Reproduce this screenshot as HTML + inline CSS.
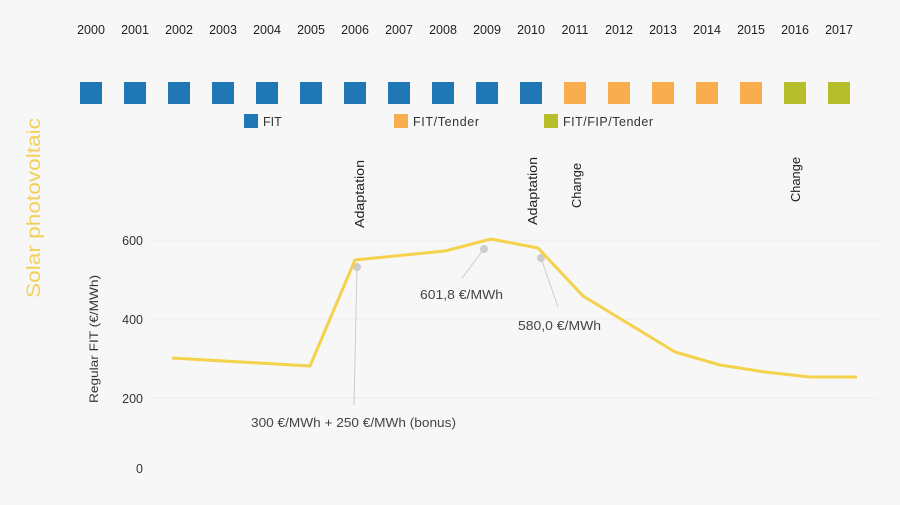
<!DOCTYPE html>
<html><head><meta charset="utf-8"><style>
body{margin:0;width:900px;height:500px;background:#f7f7f7;overflow:hidden;font-family:"Liberation Sans",sans-serif}
</style></head><body>
<svg width="900" height="500" xmlns="http://www.w3.org/2000/svg" font-family="Liberation Sans, sans-serif">
<rect width="900" height="500" fill="#f7f7f7"/>
<g font-size="12.5" fill="#222" text-anchor="middle">
<text x="91" y="34">2000</text><text x="135" y="34">2001</text><text x="179" y="34">2002</text><text x="223" y="34">2003</text><text x="267" y="34">2004</text><text x="311" y="34">2005</text><text x="355" y="34">2006</text><text x="399" y="34">2007</text><text x="443" y="34">2008</text><text x="487" y="34">2009</text><text x="531" y="34">2010</text><text x="575" y="34">2011</text><text x="619" y="34">2012</text><text x="663" y="34">2013</text><text x="707" y="34">2014</text><text x="751" y="34">2015</text><text x="795" y="34">2016</text><text x="839" y="34">2017</text>
</g>
<g fill="#1f77b4">
<rect x="80" y="82" width="22" height="22"/><rect x="124" y="82" width="22" height="22"/><rect x="168" y="82" width="22" height="22"/><rect x="212" y="82" width="22" height="22"/><rect x="256" y="82" width="22" height="22"/><rect x="300" y="82" width="22" height="22"/><rect x="344" y="82" width="22" height="22"/><rect x="388" y="82" width="22" height="22"/><rect x="432" y="82" width="22" height="22"/><rect x="476" y="82" width="22" height="22"/><rect x="520" y="82" width="22" height="22"/>
</g>
<g fill="#f8ad4f">
<rect x="564" y="82" width="22" height="22"/><rect x="608" y="82" width="22" height="22"/><rect x="652" y="82" width="22" height="22"/><rect x="696" y="82" width="22" height="22"/><rect x="740" y="82" width="22" height="22"/>
</g>
<g fill="#b6be2c"><rect x="784" y="82" width="22" height="22"/><rect x="828" y="82" width="22" height="22"/></g>
<rect x="244" y="114" width="14" height="14" fill="#1f77b4"/><text x="263" y="126" font-size="12.5" fill="#333">FIT</text>
<rect x="394" y="114" width="14" height="14" fill="#f8ad4f"/><text x="413" y="126" font-size="12.5" fill="#333" textLength="66">FIT/Tender</text>
<rect x="544" y="114" width="14" height="14" fill="#b6be2c"/><text x="563" y="126" font-size="12.5" fill="#333" textLength="90">FIT/FIP/Tender</text>
<text transform="translate(40,298) rotate(-90)" font-size="19" fill="#f2d15a" textLength="180" lengthAdjust="spacingAndGlyphs">Solar photovoltaic</text>
<text transform="translate(98,403) rotate(-90)" font-size="12" fill="#333" textLength="128" lengthAdjust="spacingAndGlyphs">Regular FIT (€/MWh)</text>
<g font-size="12.5" fill="#333" text-anchor="end"><text x="143" y="245">600</text><text x="143" y="324">400</text><text x="143" y="403">200</text><text x="143" y="473">0</text></g>
<g stroke="#ececec" stroke-width="1"><line x1="150" y1="241" x2="878" y2="241"/><line x1="150" y1="319" x2="878" y2="319"/><line x1="150" y1="398" x2="878" y2="398"/></g>
<g font-size="12.5" fill="#222">
<text transform="translate(364,228) rotate(-90)" textLength="68" lengthAdjust="spacingAndGlyphs">Adaptation</text>
<text transform="translate(537,225) rotate(-90)" textLength="68" lengthAdjust="spacingAndGlyphs">Adaptation</text>
<text transform="translate(581,208) rotate(-90)" textLength="45" lengthAdjust="spacingAndGlyphs">Change</text>
<text transform="translate(800,202) rotate(-90)" textLength="45" lengthAdjust="spacingAndGlyphs">Change</text>
</g>
<g stroke="#ccc" stroke-width="1"><line x1="357" y1="267" x2="354" y2="405"/><line x1="484" y1="249" x2="462" y2="278"/><line x1="541" y1="258" x2="558" y2="307"/></g>
<g fill="#ccc"><circle cx="357" cy="267" r="4"/><circle cx="484" cy="249" r="4"/><circle cx="541" cy="258" r="4"/></g>
<polyline fill="none" stroke="#f5d24b" stroke-width="3" stroke-linejoin="round" points="172,358 310,366 355,260 445,251 491,239 538,248 583,296 675,352 720,365 765,372 810,377 857,377"/>
<g font-size="12.5" fill="#444">
<text x="251" y="427" textLength="205" lengthAdjust="spacingAndGlyphs">300 €/MWh + 250 €/MWh (bonus)</text>
<text x="420" y="299" textLength="83" lengthAdjust="spacingAndGlyphs">601,8 €/MWh</text>
<text x="518" y="330" textLength="83" lengthAdjust="spacingAndGlyphs">580,0 €/MWh</text>
</g>
</svg>
</body></html>
